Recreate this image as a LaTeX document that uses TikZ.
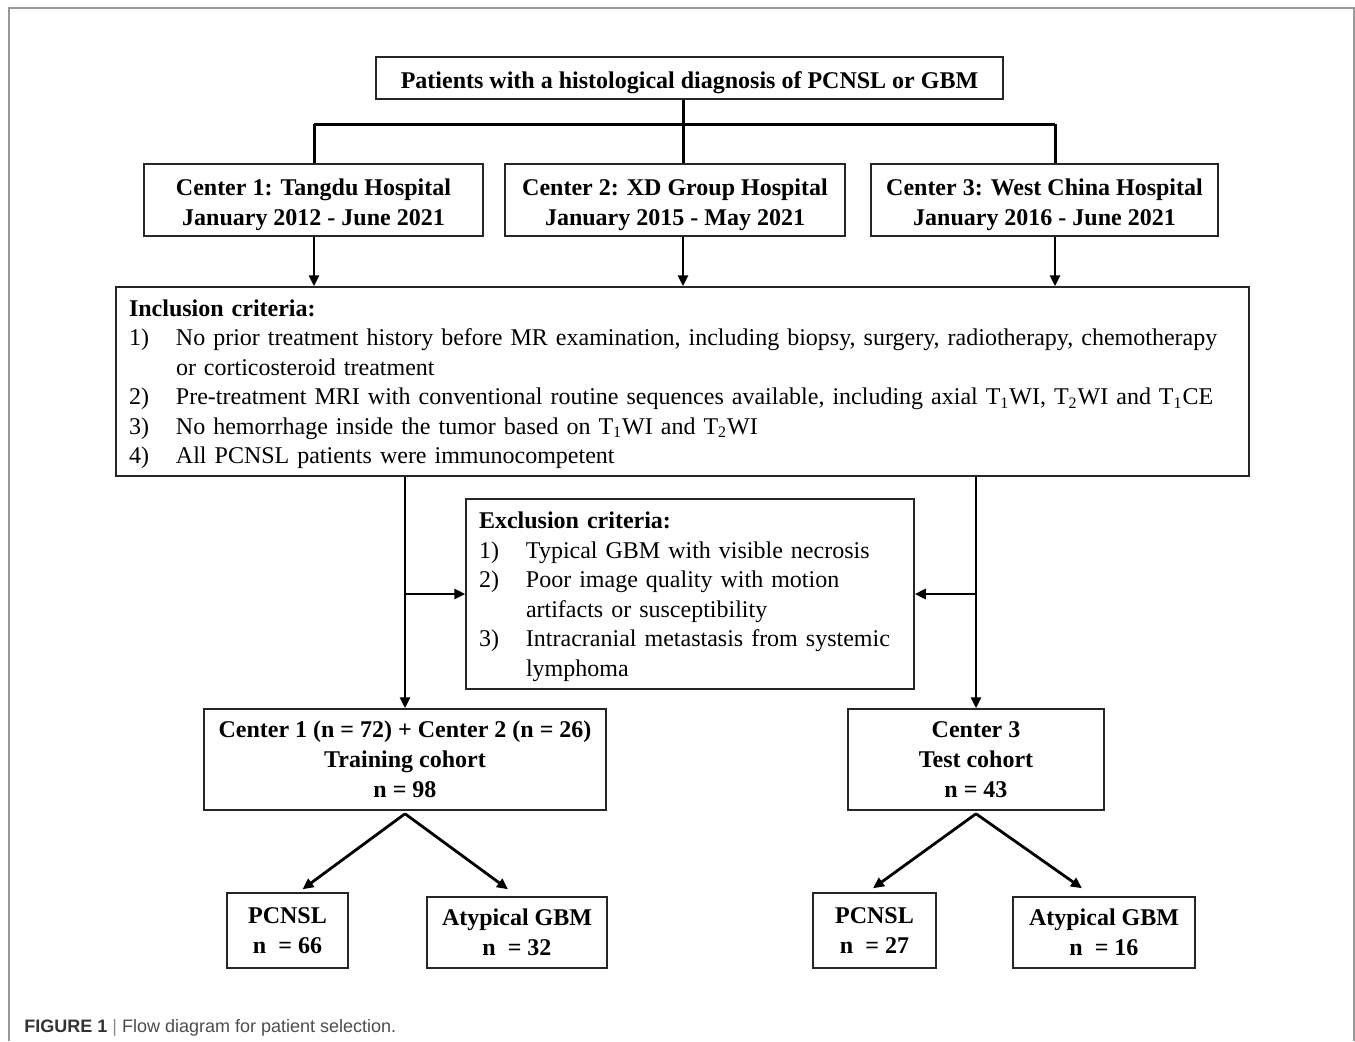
\documentclass[tikz,border=0pt]{standalone}
\usepackage{fontspec}
\setmainfont{Liberation Serif}
\setsansfont{Liberation Sans}
\usetikzlibrary{arrows.meta,positioning}
\newcommand{\boxlines}[1]{\raisebox{-2pt}[\height][\depth]{\begin{tabular}{@{}c@{}}#1\end{tabular}}}
\newcommand{\critlines}[1]{\raisebox{-1.25pt}[\height][\depth]{\begin{tabular}{@{}p{23.5pt}@{}l@{}}#1\end{tabular}}}

\begin{document}
\begin{tikzpicture}[x=0.5pt,y=-0.5pt,
  box/.style={draw=black!85, line width=0.75pt, align=center, inner sep=0pt, font=\fontsize{12}{15}\selectfont\bfseries},
  critbox/.style={draw=black!85, line width=0.75pt, inner xsep=6.5pt, inner ysep=0pt, align=left, font=\fontsize{12}{14.75}\selectfont},
  link/.style={line width=1.5pt},
  arr/.style={line width=1.4pt, -{Triangle[length=5.5pt,width=5pt]}}]
  \useasboundingbox (0,0) rectangle (1355,1041);
  \draw[black!40, line width=1pt] (9,1041) -- (9,8) -- (1354,8) -- (1354,1041);

  % top and centres
  \node[box, minimum width=313.5pt, minimum height=21pt] (top) at (689.5,78) {\boxlines{Patients with a histological diagnosis of PCNSL or GBM}};
  \node[box, minimum width=169.5pt, minimum height=36pt] (c1) at (313.5,200) {\boxlines{Center 1: Tangdu Hospital\\January 2012 - June 2021}};
  \node[box, minimum width=170pt, minimum height=36pt] (c2) at (675,200) {\boxlines{Center 2: XD Group Hospital\\January 2015 - May 2021}};
  \node[box, minimum width=173.5pt, minimum height=36pt] (c3) at (1044.5,200) {\boxlines{Center 3: West China Hospital\\January 2016 - June 2021}};

  % criteria
  \node[critbox, text width=553.5pt, minimum height=94.5pt] (incl) at (682.5,381.5) {\critlines{%
      \multicolumn{2}{@{}l@{}}{\textbf{Inclusion criteria:}}\\
      1) & No prior treatment history before MR examination, including biopsy, surgery, radiotherapy, chemotherapy\\
         & or corticosteroid treatment\\
      2) & Pre-treatment MRI with conventional routine sequences available, including axial T\textsubscript{1}WI, T\textsubscript{2}WI and T\textsubscript{1}CE\\
      3) & No hemorrhage inside the tumor based on T\textsubscript{1}WI and T\textsubscript{2}WI\\
      4) & All PCNSL patients were immunocompetent}};
  \node[critbox, text width=211pt, minimum height=95pt] (excl) at (690,594) {\critlines{%
      \multicolumn{2}{@{}l@{}}{\textbf{Exclusion criteria:}}\\
      1) & Typical GBM with visible necrosis\\
      2) & Poor image quality with motion\\
         & artifacts or susceptibility\\
      3) & Intracranial metastasis from systemic\\
         & lymphoma}};

  % cohorts
  \node[box, minimum width=201pt, minimum height=50.5pt] (train) at (405,759.5) {Center 1 (n = 72) + Center 2 (n = 26)\\Training cohort\\n = 98};
  \node[box, minimum width=128pt, minimum height=50.5pt] (test) at (976,759.5) {Center 3\\Test cohort\\n = 43};
  \node[box, minimum width=60.5pt, minimum height=37.5pt] (pc1) at (287.5,930.5) {PCNSL\\n\enspace= 66};
  \node[box, minimum width=90pt, minimum height=35.5pt] (gbm1) at (517,932.5) {Atypical GBM\\n\enspace= 32};
  \node[box, minimum width=61.5pt, minimum height=37.5pt] (pc2) at (874.5,930.5) {PCNSL\\n\enspace= 27};
  \node[box, minimum width=91pt, minimum height=35.5pt] (gbm2) at (1104,932.5) {Atypical GBM\\n\enspace= 16};

  \node[anchor=base west, inner sep=0pt, font=\sffamily\fontsize{9}{11}\selectfont] (cap) at (24,1032)
    {\textcolor{black!80}{\textbf{FIGURE 1}} \textcolor{black!45}{|} \textcolor{black!70}{Flow diagram for patient selection.}};

  % connectors
  \coordinate (barL) at (314,124);
  \coordinate (barM) at (683,124);
  \coordinate (barR) at (1055,124);
  \draw[link] (barL) -- (barR);
  \draw[link] (barM |- top.south) -- (barM);
  \foreach \b/\c in {barL/c1, barM/c2, barR/c3} {
    \draw[link] (\b) -- (\b |- \c.north);
    \draw[arr] (\b |- \c.south) -- (\b |- incl.north);
  }
  \draw[arr] (train.north |- incl.south) -- (train.north);
  \draw[arr] (test.north |- incl.south) -- (test.north);
  \draw[arr] (excl.west -| train.north) -- (excl.west);
  \draw[arr] (excl.east -| test.north) -- (excl.east);
  \draw[arr] ([yshift=-1.5pt]train.south) -- ([xshift=7.5pt,yshift=1.5pt]pc1.north);
  \draw[arr] ([yshift=-1.5pt]train.south) -- ([xshift=-4.5pt,yshift=3.5pt]gbm1.north);
  \draw[arr] ([yshift=-1.5pt]test.south) -- ([xshift=-0.75pt,yshift=2pt]pc2.north);
  \draw[arr] ([yshift=-1.5pt]test.south) -- ([xshift=-11pt,yshift=4pt]gbm2.north);
\end{tikzpicture}
\end{document}
